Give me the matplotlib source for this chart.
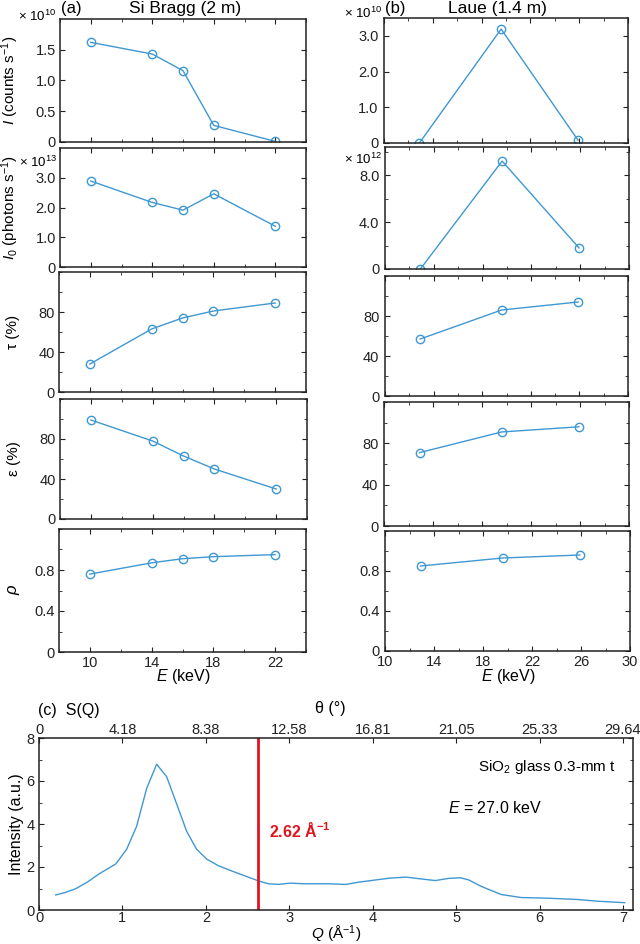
import matplotlib
matplotlib.use("Agg")
import matplotlib.pyplot as plt
from matplotlib.ticker import MultipleLocator

plt.rcParams['font.family'] = ['Liberation Sans', 'DejaVu Sans']
plt.rcParams['mathtext.fontset'] = 'custom'
plt.rcParams['mathtext.rm'] = 'Liberation Sans'
plt.rcParams['mathtext.it'] = 'Liberation Sans:italic'
plt.rcParams['mathtext.bf'] = 'Liberation Sans:bold'

# ---- data ----
E_bragg = [10, 14, 16, 18, 22]
I_bragg = [1.62, 1.43, 1.16, 0.27, 0.01]        # x 1e10 counts/s
I0_bragg = [2.89, 2.17, 1.91, 2.46, 1.37]       # x 1e13 photons/s
tau_bragg = [28, 63, 74, 81, 89]
eps_bragg = [99, 78, 63, 50, 30]
rho_bragg = [0.76, 0.87, 0.91, 0.93, 0.95]

E_laue = [12.9, 19.6, 25.9]
I_laue = [0.0, 3.19, 0.08]                      # x 1e10
I0_laue = [0.0, 9.2, 1.8]                       # x 1e12
tau_laue = [57, 86, 94]
eps_laue = [71, 91, 96]
rho_laue = [0.85, 0.93, 0.96]

Q = [0.20, 0.31, 0.44, 0.58, 0.72, 0.92, 1.05, 1.17, 1.29, 1.41, 1.53, 1.64,
     1.77, 1.89, 2.01, 2.15, 2.32, 2.48, 2.64, 2.75, 2.87, 3.01, 3.18, 3.34,
     3.46, 3.68, 3.84, 4.04, 4.20, 4.40, 4.59, 4.75, 4.91, 5.05, 5.15, 5.30,
     5.54, 5.78, 6.09, 6.45, 6.69, 7.02]
SQ = [0.70, 0.81, 0.99, 1.30, 1.68, 2.14, 2.82, 3.89, 5.65, 6.78, 6.20, 5.04,
      3.66, 2.82, 2.37, 2.06, 1.80, 1.57, 1.34, 1.22, 1.19, 1.25, 1.22, 1.22,
      1.22, 1.19, 1.30, 1.40, 1.48, 1.53, 1.44, 1.37, 1.47, 1.50, 1.40, 1.10,
      0.72, 0.58, 0.55, 0.49, 0.41, 0.34]
Q_cut = 2.62
theta_ticks = [0, 1, 2, 3, 4, 5, 6, 7]
theta_labels = ['0', '4.18', '8.38', '12.58', '16.81', '21.05', '25.33', '29.64']

left_yticks = [[0, 0.5, 1.0, 1.5], [0, 1, 2, 3], [0, 40, 80], [0, 40, 80], [0, 0.4, 0.8]]
left_ylabels = [['0', '0.5', '1.0', '1.5'], ['0', '1.0', '2.0', '3.0'],
                ['0', '40', '80'], ['0', '40', '80'], ['0', '0.4', '0.8']]
right_yticks = [[0, 1, 2, 3], [0, 4, 8], [0, 40, 80], [0, 40, 80], [0, 0.4, 0.8]]
right_ylabels = [['0', '1.0', '2.0', '3.0'], ['0', '4.0', '8.0'],
                 ['0', '40', '80'], ['0', '40', '80'], ['0', '0.4', '0.8']]

LINE = '#3f98d2'
W, H = 640, 944


def box(x0, y0, x1, y1):
    return [x0 / W, 1 - y1 / H, (x1 - x0) / W, (y1 - y0) / H]


def fx(x):
    return x / W


def fy(y):
    return 1 - y / H


def style(ax):
    for s in ax.spines.values():
        s.set_color('#222222')
        s.set_linewidth(1.1)
    ax.tick_params(which='both', direction='in', top=True, right=True,
                   labelsize=10.5, colors='#222222', pad=3)
    ax.tick_params(which='major', length=3.5)
    ax.tick_params(which='minor', length=2)


fig = plt.figure(figsize=(6.4, 9.44), dpi=100)

left_boxes = [(60, 19, 306, 142), (60, 148, 306, 267), (59, 272, 306, 392),
              (60, 399, 307, 519), (59, 529, 306, 652)]
right_boxes = [(384, 18, 628, 143), (385, 147, 629, 269), (385, 276, 628, 396),
               (384, 402, 629, 526), (385, 531, 630, 651)]

left_data = [I_bragg, I0_bragg, tau_bragg, eps_bragg, rho_bragg]
right_data = [I_laue, I0_laue, tau_laue, eps_laue, rho_laue]
left_ylim = [(0, 2.0), (0, 4.0), (0, 120), (0, 120), (0, 1.2)]
right_ylim = [(0, 3.5), (0, 10.4), (0, 120), (0, 120), (0, 1.2)]
yminor = [None, None, 20, 20, 0.2]
ytitles = [r'$I$ (counts s$^{-1}$)', r'$I_0$ (photons s$^{-1}$)',
           'τ (%)', 'ε (%)', None]

for i in range(5):
    # Si Bragg column
    ax = fig.add_axes(box(*left_boxes[i]))
    ax.plot(E_bragg, left_data[i], '-o', color=LINE, lw=1.0, ms=6,
            mfc='none', mec=LINE, mew=1.0)
    ax.set_xlim(8, 24)
    ax.set_ylim(*left_ylim[i])
    ax.set_xticks([10, 14, 18, 22])
    ax.xaxis.set_minor_locator(MultipleLocator(2))
    ax.set_yticks(left_yticks[i])
    ax.set_yticklabels(left_ylabels[i])
    if yminor[i]:
        ax.yaxis.set_minor_locator(MultipleLocator(yminor[i]))
    if i < 4:
        ax.set_xticklabels([])
    style(ax)
    if ytitles[i]:
        ax.set_ylabel(ytitles[i], fontsize=11)
    else:
        ax.set_ylabel('ρ', fontsize=12, style='italic')
    ax.yaxis.set_label_coords(-0.158, 0.5)

    # Laue column
    ax = fig.add_axes(box(*right_boxes[i]))
    ax.plot(E_laue, right_data[i], '-o', color=LINE, lw=1.0, ms=6,
            mfc='none', mec=LINE, mew=1.0)
    ax.set_xlim(10, 30)
    ax.set_ylim(*right_ylim[i])
    ax.set_xticks([10, 14, 18, 22, 26, 30])
    ax.xaxis.set_minor_locator(MultipleLocator(2))
    ax.set_yticks(right_yticks[i])
    ax.set_yticklabels(right_ylabels[i])
    if yminor[i]:
        ax.yaxis.set_minor_locator(MultipleLocator(yminor[i]))
    elif i == 1:
        ax.yaxis.set_minor_locator(MultipleLocator(2))
    if i < 4:
        ax.set_xticklabels([])
    style(ax)
    ax.tick_params(axis='y', pad=4)

# headers and multipliers
fig.text(fx(61), fy(8), '(a)', fontsize=12, va='center')
fig.text(fx(185), fy(8), 'Si Bragg (2 m)', fontsize=12.5, va='center', ha='center')
fig.text(fx(385), fy(8), '(b)', fontsize=12, va='center')
fig.text(fx(497), fy(8), 'Laue (1.4 m)', fontsize=12.5, va='center', ha='center')
fig.text(fx(56), fy(16), r'× $10^{10}$', fontsize=9.5, va='center', ha='right')
fig.text(fx(57), fy(162), r'× $10^{13}$', fontsize=9.5, va='center', ha='right')
fig.text(fx(382), fy(13), r'× $10^{10}$', fontsize=9.5, va='center', ha='right')
fig.text(fx(382), fy(159), r'× $10^{12}$', fontsize=9.5, va='center', ha='right')
fig.text(fx(183), fy(677), r'$E$ (keV)', fontsize=11.5, va='center', ha='center')
fig.text(fx(508), fy(677), r'$E$ (keV)', fontsize=11.5, va='center', ha='center')

# (c) S(Q)
axc = fig.add_axes(box(39, 738, 633, 910))
axc.plot(Q, SQ, color=LINE, lw=1.0)
axc.axvline(Q_cut, color='#e0141e', lw=2.0)
axc.set_xlim(0, 7.12)
axc.set_ylim(0, 8)
axc.set_xticks(range(8))
axc.set_yticks([0, 2, 4, 6, 8])
axc.yaxis.set_minor_locator(MultipleLocator(1))
style(axc)
axc.tick_params(top=False)
axc.tick_params(axis='x', pad=1)
axc.set_xlabel(r'$Q$ (Å$^{-1}$)', fontsize=11, labelpad=-1)
axc.set_ylabel('Intensity (a.u.)', fontsize=11.5, labelpad=2)
axc.text(0.739, 0.83, r'SiO$_2$ glass 0.3-mm t', transform=axc.transAxes,
         fontsize=11, va='center')
axc.text(0.689, 0.594, r'$E$ = 27.0 keV', transform=axc.transAxes,
         fontsize=11.5, va='center')
axc.text(0.387, 0.463, r'2.62 Å$^{\mathbf{-1}}$', transform=axc.transAxes,
         fontsize=11.5, va='center', color='#e0141e', fontweight='bold')

top = axc.twiny()
top.set_xlim(axc.get_xlim())
top.set_xticks(theta_ticks)
top.set_xticklabels(theta_labels)
top.tick_params(direction='in', length=3.5, labelsize=10.5, pad=1, colors='#222222')
for s in top.spines.values():
    s.set_visible(False)

fig.text(fx(38), fy(710), '(c)  S(Q)', fontsize=11.5, va='center')
fig.text(fx(330), fy(709), 'θ (°)', fontsize=11.5, va='center', ha='center')

fig.savefig('out.png', dpi=100)
